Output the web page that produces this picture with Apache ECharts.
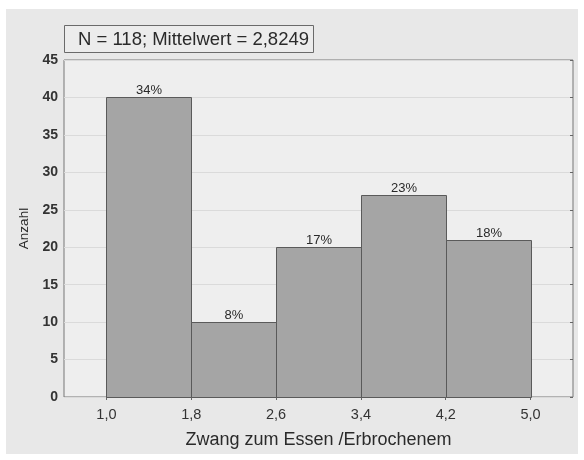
<!DOCTYPE html>
<html>
<head>
<meta charset="utf-8">
<script src="https://cdn.jsdelivr.net/npm/echarts@6/dist/echarts.min.js"></script>
<style>
html,body{margin:0;padding:0;background:#ffffff;}
#chart{width:584px;height:460px;}
</style>
</head>
<body>
<div id="chart"></div>
<script>
// Data
var binEdges = [1.0, 1.8, 2.6, 3.4, 4.2, 5.0];
var counts = [40, 10, 20, 27, 21];
var percentLabels = ['34%', '8%', '17%', '23%', '18%'];
var yTicks = [0, 5, 10, 15, 20, 25, 30, 35, 40, 45];
var titleText = 'N = 118; Mittelwert = 2,8249';
var xName = 'Zwang zum Essen /Erbrochenem';
var yName = 'Anzahl';

var histData = counts.map(function (c, i) {
  return [binEdges[i], binEdges[i + 1], c, percentLabels[i]];
});

var fmt = function (v) { return v.toFixed(1).replace('.', ','); };
var FONT = 'Liberation Sans, Arial, sans-serif';

var chart = echarts.init(document.getElementById('chart'), null, {renderer: 'canvas'});
chart.setOption({
  animation: false,
  backgroundColor: '#ffffff',
  graphic: [
    {type: 'rect', z: -10, shape: {x: 6, y: 9, width: 572, height: 445},
     style: {fill: '#e8e8e8'}},
    {type: 'rect', z: 10, shape: {x: 64.5, y: 25.5, width: 249, height: 27},
     style: {fill: '#ececec', stroke: '#6a6a6a', lineWidth: 1}},
    {type: 'text', z: 11, x: 193.5, y: 39.5,
     style: {text: titleText, font: '18.5px ' + FONT, fill: '#2a2a2a', align: 'center', verticalAlign: 'middle'}}
  ],
  grid: {left: 64, right: 11, top: 60, bottom: 63, show: true,
    backgroundColor: '#eeeeee', borderColor: '#777777', borderWidth: 1},
  xAxis: [
    {type: 'value', min: 0.6, max: 5.4, position: 'bottom',
     name: xName, nameLocation: 'middle', nameGap: 34,
     nameTextStyle: {fontFamily: FONT, fontSize: 18, color: '#2a2a2a'},
     axisLine: {show: false},
     axisTick: {show: false, customValues: binEdges},
     axisLabel: {customValues: binEdges, formatter: fmt, fontFamily: FONT, fontSize: 14.5, color: '#333', margin: 10},
     splitLine: {show: false}},
    {type: 'value', min: 0.6, max: 5.4, position: 'top',
     axisLine: {show: false},
     axisTick: {show: true, inside: true, length: 3, customValues: binEdges, lineStyle: {color: '#666'}},
     axisLabel: {show: false},
     splitLine: {show: false}}
  ],
  yAxis: [
    {type: 'value', min: 0, max: 45, interval: 5, position: 'left',
     name: yName, nameLocation: 'middle', nameGap: 32,
     nameTextStyle: {fontFamily: FONT, fontSize: 13.5, color: '#2a2a2a'},
     axisLine: {show: false},
     axisTick: {show: false},
     axisLabel: {fontFamily: FONT, fontSize: 14, fontWeight: 'bold', color: '#333', margin: 6},
     splitLine: {show: true, lineStyle: {color: '#dadada', width: 1}}},
    {type: 'value', min: 0, max: 45, interval: 5, position: 'right',
     axisLine: {show: false},
     axisTick: {show: true, inside: true, length: 3, lineStyle: {color: '#666'}},
     axisLabel: {show: false},
     splitLine: {show: false}}
  ],
  series: [{
    type: 'custom',
    xAxisIndex: 0, yAxisIndex: 0,
    data: histData,
    encode: {x: [0, 1], y: 2},
    renderItem: function (params, api) {
      var p0 = api.coord([api.value(0), 0]);
      var p1 = api.coord([api.value(1), api.value(2)]);
      var x = Math.round(p0[0]) + 0.5, w = Math.round(p1[0]) - Math.round(p0[0]);
      var y = Math.round(p1[1]) + 0.5, h = Math.round(p0[1]) - Math.round(p1[1]);
      return {
        type: 'group',
        children: [
          {type: 'rect', shape: {x: x, y: y, width: w, height: h},
           style: {fill: '#a5a5a5', stroke: '#5a5a5a', lineWidth: 1}},
          {type: 'text', x: x + w / 2, y: y - 1,
           style: {text: histData[params.dataIndex][3], font: '13px ' + FONT, fill: '#2a2a2a',
                   align: 'center', verticalAlign: 'bottom'}}
        ]
      };
    }
  }]
});
</script>
</body>
</html>
